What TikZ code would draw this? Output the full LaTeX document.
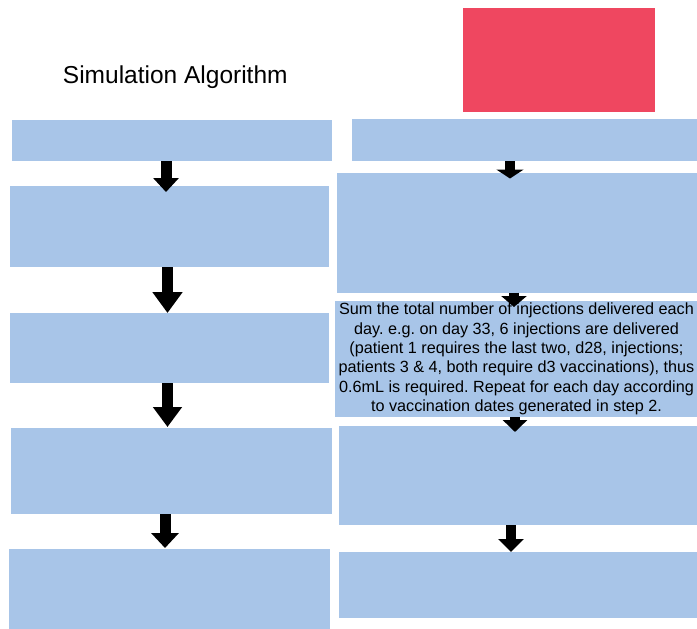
\documentclass[tikz,border=0pt]{standalone}
\usepackage{fontspec}
\setmainfont{Liberation Sans}
\usetikzlibrary{arrows.meta}
\definecolor{boxblue}{RGB}{168,197,232}
\definecolor{topred}{RGB}{239,71,96}
\tikzset{
  box/.style={fill=boxblue, draw=none, inner sep=0pt, outer sep=0pt},
  redbox/.style={fill=topred, draw=none, inner sep=0pt, outer sep=0pt},
  blockarrow/.style={draw=black, line width=#1, line cap=butt},
  blockarrow/.default=11pt,
}
\frenchspacing
\begin{document}
\begin{tikzpicture}[x=1pt,y=-1pt]
\useasboundingbox (0,0) rectangle (697,629);
% title
\node[anchor=base, inner sep=0pt, font=\fontsize{24.5}{29}\selectfont] (title) at (175.3,83.3) {Simulation Algorithm};
% left column
\node[box, minimum width=320pt, minimum height=41pt] (L1) at (172,140.5) {};
\node[box, minimum width=319pt, minimum height=81pt] (L2) at (169.5,226.5) {};
\node[box, minimum width=319pt, minimum height=70pt] (L3) at (169.5,348) {};
\node[box, minimum width=321pt, minimum height=86pt] (L4) at (171.5,471) {};
\node[box, minimum width=321pt, minimum height=81pt] (L5) at (169.5,589.5) {};
% right column
\node[redbox, minimum width=192pt, minimum height=104pt] (red) at (559,60) {};
\node[box, minimum width=358pt, minimum height=42pt] (R1) at (531,140) {};
\node[box, minimum width=373pt, minimum height=120pt] (R2) at (523.5,232.5) {};
\node[box, minimum width=363pt, minimum height=116pt, align=center,
      font=\fontsize{16.2}{19.4}\selectfont] (R3) at (516.5,359)
  {Sum the total number of injections delivered each\\
   day. e.g. on day 33, 6 injections are delivered\\
   (patient 1 requires the last two, d28, injections;\\
   patients 3 \& 4, both require d3 vaccinations), thus\\
   0.6mL is required. Repeat for each day according\\
   to vaccination dates generated in step 2.};
\node[box, minimum width=371pt, minimum height=99pt] (R4) at (524.5,475.5) {};
\node[box, minimum width=371pt, minimum height=66pt] (R5) at (524.5,585) {};
% left arrows
\draw[blockarrow, -{Triangle[width=25pt,length=14pt]}] ([xshift=-6pt]L1.south) -- ([xshift=-3.5pt,yshift=-6pt]L2.north);
\draw[blockarrow, -{Triangle[width=29pt,length=21pt]}] ([xshift=-2pt]L2.south) -- ([xshift=-2pt]L3.north);
\draw[blockarrow, -{Triangle[width=28pt,length=20pt]}] ([xshift=-2pt]L3.south) -- ([xshift=-4pt,yshift=1pt]L4.north);
\draw[blockarrow, -{Triangle[width=27pt,length=15pt]}] ([xshift=-6.5pt]L4.south) -- ([xshift=-4.5pt,yshift=1pt]L5.north);
% right arrows
\draw[blockarrow=10pt, -{Triangle[width=27pt,length=9pt]}] ([xshift=-21pt]R1.south) -- ([xshift=-13.5pt,yshift=-6pt]R2.north);
\draw[blockarrow=10pt, -{Triangle[width=25pt,length=11pt]}] ([xshift=-9.5pt]R2.south) -- ([xshift=-2.5pt,yshift=-6pt]R3.north);
\draw[blockarrow=10pt, -{Triangle[width=24pt,length=12pt]}] ([xshift=-1.5pt]R3.south) -- ([xshift=-9.5pt,yshift=-6pt]R4.north);
\draw[blockarrow=10pt, -{Triangle[width=25pt,length=13pt]}] ([xshift=-13.5pt]R4.south) -- ([xshift=-13.5pt]R5.north);
\end{tikzpicture}
\end{document}
